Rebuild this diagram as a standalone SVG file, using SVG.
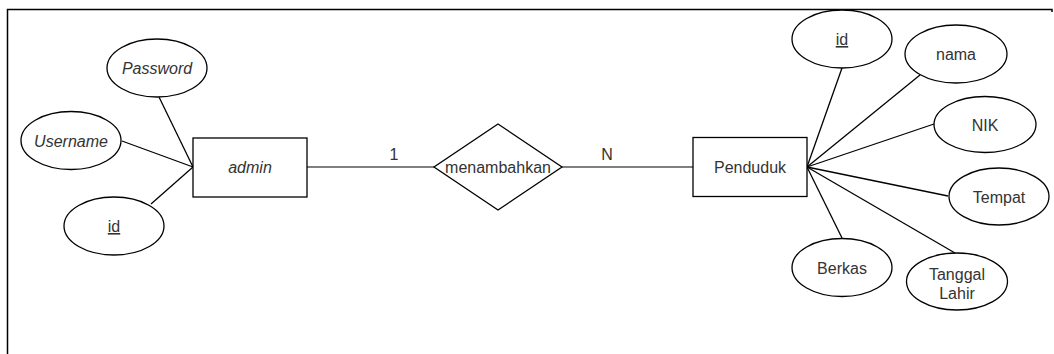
<svg xmlns="http://www.w3.org/2000/svg" width="1054" height="354" viewBox="0 0 1054 354">
<style>
.shape{fill:#fff;stroke:#000;stroke-width:1.3}
.lbl{font-family:"Liberation Sans",Arial,sans-serif;font-size:16px;fill:#333;text-anchor:middle}
.it{font-style:italic}
.ul{text-decoration:underline}
.conn line{stroke:#000;stroke-width:1.3}
</style>
<rect width="1054" height="354" fill="#fff"/>
<path d="M7.5,354 V9.5 H1052 V12" fill="none" stroke="#000" stroke-width="1.5"/>
<g id="connectors" class="conn">
<line x1="159" y1="97" x2="193" y2="167"/>
<line x1="122" y1="141" x2="193" y2="167"/>
<line x1="151" y1="204" x2="193" y2="167"/>
<line x1="307" y1="167" x2="434" y2="167" style="stroke:#555;stroke-width:1.6"/>
<line x1="562" y1="167" x2="693" y2="167" style="stroke:#555;stroke-width:1.6"/>
<line x1="807" y1="167" x2="842" y2="68"/>
<line x1="807" y1="167" x2="920" y2="75"/>
<line x1="807" y1="167" x2="934" y2="124"/>
<line x1="807" y1="167" x2="948" y2="196"/>
<line x1="807" y1="167" x2="842" y2="238"/>
<line x1="807" y1="167" x2="955" y2="253"/>
<text class="lbl" x="394" y="160">1</text>
<text class="lbl" x="607" y="160">N</text>
</g>
<g id="admin"><rect class="shape" x="193" y="138" width="114" height="59"/><text class="lbl it" x="250" y="173">admin</text></g>
<g id="admin-password"><ellipse class="shape" cx="157" cy="68" rx="50" ry="29"/><text class="lbl it" x="157" y="74">Password</text></g>
<g id="admin-username"><ellipse class="shape" cx="71" cy="140.5" rx="50" ry="29"/><text class="lbl it" x="71" y="146.5">Username</text></g>
<g id="admin-id"><ellipse class="shape" cx="114" cy="226" rx="50" ry="29"/><text class="lbl ul" x="114" y="232">id</text></g>
<g id="menambahkan"><polygon class="shape" points="498,124 562,167 498,210 434,167"/><text class="lbl" x="498" y="173">menambahkan</text></g>
<g id="penduduk"><rect class="shape" x="693" y="137.5" width="114" height="59"/><text class="lbl" x="750" y="173">Penduduk</text></g>
<g id="penduduk-id"><ellipse class="shape" cx="842" cy="39" rx="50" ry="29"/><text class="lbl ul" x="842" y="45">id</text></g>
<g id="penduduk-nama"><ellipse class="shape" cx="956" cy="54" rx="51" ry="29"/><text class="lbl" x="956" y="60">nama</text></g>
<g id="penduduk-nik"><ellipse class="shape" cx="985" cy="124.5" rx="51" ry="28"/><text class="lbl" x="985" y="130.5">NIK</text></g>
<g id="penduduk-tempat"><ellipse class="shape" cx="999" cy="196.5" rx="50" ry="28.5"/><text class="lbl" x="999" y="202.5">Tempat</text></g>
<g id="penduduk-berkas"><ellipse class="shape" cx="842" cy="267.5" rx="50" ry="29"/><text class="lbl" x="842" y="273.5">Berkas</text></g>
<g id="penduduk-tanggal"><ellipse class="shape" cx="957" cy="281.5" rx="50.5" ry="28.5"/><text class="lbl" x="957" y="280">Tanggal</text><text class="lbl" x="957" y="299">Lahir</text></g>
</svg>
